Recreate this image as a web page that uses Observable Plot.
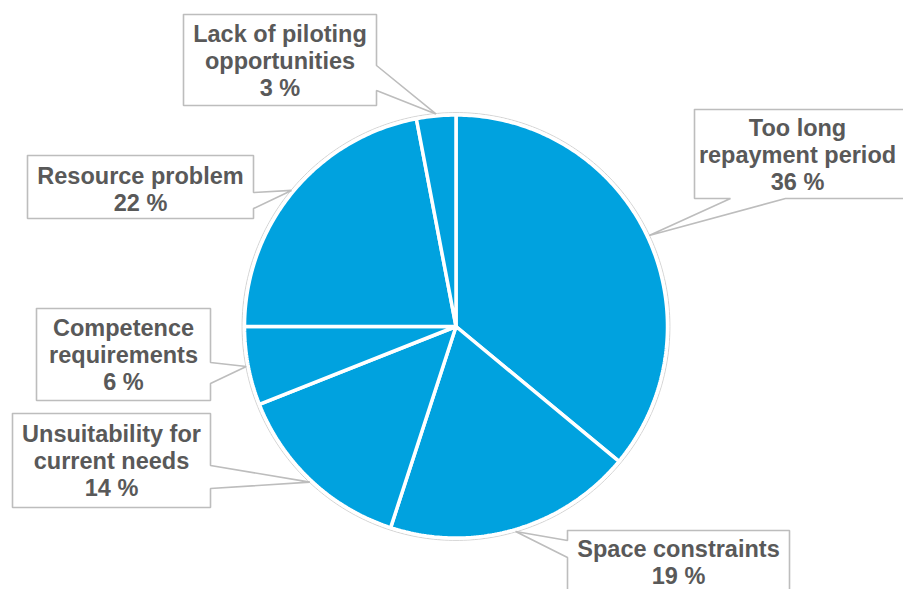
<!DOCTYPE html>
<html>
<head>
<meta charset="utf-8">
<script src="https://cdn.jsdelivr.net/npm/d3@7"></script>
<script src="https://cdn.jsdelivr.net/npm/@observablehq/plot@0.6"></script>
<style>
  html, body { margin: 0; padding: 0; background: #ffffff; }
  #chart { width: 903px; height: 589px; overflow: hidden; }
</style>
</head>
<body>
<div id="chart"></div>
<script>
// ---- data (clockwise from 12 o'clock) ----
const categories = [
  "Too long repayment period",
  "Space constraints",
  "Unsuitability for current needs",
  "Competence requirements",
  "Resource problem",
  "Lack of piloting opportunities"
];
const shares = [36, 19, 14, 6, 22, 3];
const labelLines = [
  "Too long\nrepayment period",
  "Space constraints",
  "Unsuitability for\ncurrent needs",
  "Competence\nrequirements",
  "Resource problem",
  "Lack of piloting\nopportunities"
];

// ---- layout (pixel space) ----
const W = 903, H = 589;
const cx = 455.5, cy = 326, R = 211.5;
// callout boxes: [x1, y1, x2, y2], side of pointer, base range along that side
const callouts = [
  {box: [694, 109, 906, 198], side: "bottom", base: [730, 785], tx: 797},
  {box: [567, 530, 789, 592], side: "left",   base: [540, 557]},
  {box: [12, 413, 210, 507],  side: "right",  base: [465, 488]},
  {box: [36, 308, 210, 400],  side: "right",  base: [362, 383]},
  {box: [27, 155, 253, 218],  side: "right",  base: [192, 208], ty: 188},
  {box: [183, 14, 376, 105],  side: "right",  base: [65, 90]}
];

const arcs = d3.pie().sort(null).value(d => d)(shares);
const pt = (a, r) => [cx + r * Math.sin(a), cy - r * Math.cos(a)];

// slice outlines
const slicePts = [];
arcs.forEach((a, i) => {
  const n = Math.max(3, Math.ceil((a.endAngle - a.startAngle) * 80));
  slicePts.push({k: i, x: cx, y: cy});
  for (let j = 0; j <= n; j++) {
    const t = a.startAngle + (a.endAngle - a.startAngle) * j / n;
    const [x, y] = pt(t, R);
    slicePts.push({k: i, x, y});
  }
  slicePts.push({k: i, x: cx, y: cy});
});

// thin outer ring
const ringPts = d3.range(0, 361).map(d => {
  const [x, y] = pt(d * Math.PI / 180, R + 2.4);
  return {x, y};
});

// callout polygons
const calloutPts = [];
const texts = [];
arcs.forEach((a, i) => {
  const c = callouts[i];
  const [x1, y1, x2, y2] = c.box;
  const mid = (a.startAngle + a.endAngle) / 2;
  const [tx, ty] = pt(mid, R + 2);
  let poly;
  if (c.side === "right") {
    poly = [[x1, y1], [x2, y1], [x2, c.base[0]], [tx, ty], [x2, c.base[1]], [x2, y2], [x1, y2], [x1, y1]];
  } else if (c.side === "left") {
    poly = [[x1, y1], [x2, y1], [x2, y2], [x1, y2], [x1, c.base[1]], [tx, ty], [x1, c.base[0]], [x1, y1]];
  } else { // bottom
    poly = [[x1, y1], [x2, y1], [x2, y2], [c.base[1], y2], [tx, ty], [c.base[0], y2], [x1, y2], [x1, y1]];
  }
  poly.forEach(([x, y]) => calloutPts.push({k: i, x, y}));
  texts.push({
    x: c.tx ?? (x1 + x2) / 2,
    y: c.ty ?? (y1 + y2) / 2,
    t: labelLines[i] + "\n" + shares[i] + " %"
  });
});

const chart = Plot.plot({
  width: W,
  height: H,
  margin: 0,
  x: {domain: [0, W], axis: null},
  y: {domain: [0, H], reverse: true, axis: null},
  style: {background: "#ffffff", overflow: "hidden"},
  marks: [
    Plot.line(ringPts, {x: "x", y: "y", stroke: "#d4d4d4", strokeWidth: 1, curve: "linear"}),
    Plot.line(slicePts, {
      x: "x", y: "y", z: "k",
      fill: "#00a2df", stroke: "#ffffff", strokeWidth: 3.5,
      strokeLinejoin: "miter", curve: "linear"
    }),
    Plot.line(calloutPts, {
      x: "x", y: "y", z: "k",
      fill: "#ffffff", stroke: "#bdbdbd", strokeWidth: 1.6,
      strokeLinejoin: "miter", curve: "linear"
    }),
    Plot.text(texts, {
      x: "x", y: "y", text: "t",
      fontSize: 23.5, fontWeight: "bold", fill: "#595959",
      fontFamily: "Liberation Sans, Arial, sans-serif",
      lineHeight: 1.15, textAnchor: "middle"
    })
  ]
});
document.getElementById("chart").appendChild(chart);
</script>
</body>
</html>
